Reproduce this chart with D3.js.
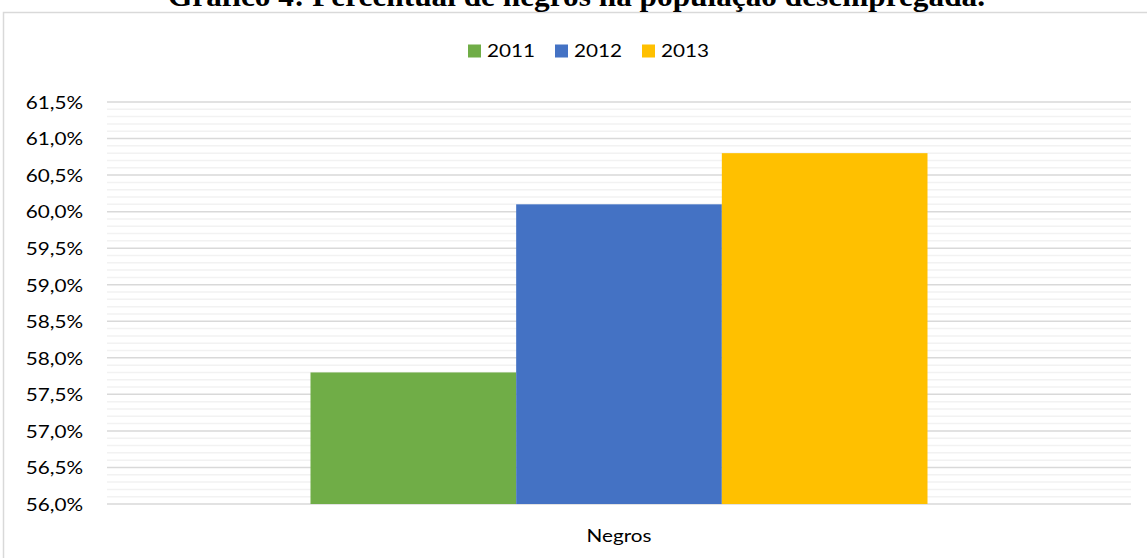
<!DOCTYPE html>
<html>
<head>
<meta charset="utf-8">
<script src="https://cdn.jsdelivr.net/npm/d3@7"></script>
<style>
  html, body { margin: 0; padding: 0; background: #fff; }
  svg { display: block; }
</style>
</head>
<body>
<svg id="chart" width="1147" height="558"></svg>
<script>
// Data
const categories = ["Negros"];
const years = ["2011", "2012", "2013"];
const values2011 = [57.8];
const values2012 = [60.1];
const values2013 = [60.8];
const yTicks = [56.0, 56.5, 57.0, 57.5, 58.0, 58.5, 59.0, 59.5, 60.0, 60.5, 61.0, 61.5];
const colors = ["#70ad47", "#4472c4", "#ffc000"];
const titleText = "Gráfico 4: Percentual de negros na população desempregada.";

const seriesValues = [values2011, values2012, values2013];

const W = 1147, H = 558;
const plot = { left: 107, right: 1131, top: 102, bottom: 504 };
const labelFont = "Lato, 'Open Sans', sans-serif";
const stretch = "scale(1.15,1)"; // wide sans labels

const svg = d3.select("#chart");

// Chart frame
svg.append("rect")
  .attr("x", 3.5).attr("y", 12.5)
  .attr("width", W + 10).attr("height", H)
  .attr("fill", "#fff")
  .attr("stroke", "#d9d9d9").attr("stroke-width", 1.5);

// Title (serif, bold), sitting above the frame
svg.append("text")
  .attr("x", 168).attr("y", 5.5)
  .attr("font-family", "'Liberation Serif', 'Times New Roman', serif")
  .attr("font-weight", "bold")
  .attr("font-size", 30)
  .attr("textLength", 817)
  .attr("lengthAdjust", "spacingAndGlyphs")
  .attr("fill", "#000")
  .text(titleText);

const y = d3.scaleLinear().domain([56, 61.5]).range([plot.bottom, plot.top]);

const groupWidth = 617;
const x0 = d3.scaleBand().domain(categories)
  .range([plot.left, plot.right]).paddingInner(0)
  .paddingOuter((plot.right - plot.left - groupWidth) / 2 / groupWidth);
const x1 = d3.scaleBand().domain(years).range([0, x0.bandwidth()]).padding(0);

// Minor gridlines every 0.1
const minor = d3.range(560, 615, 1).map(v => v / 10).filter(v => Math.round(v * 10) % 5 !== 0);
svg.append("g").selectAll("line").data(minor).join("line")
  .attr("x1", plot.left).attr("x2", plot.right)
  .attr("y1", d => y(d)).attr("y2", d => y(d))
  .attr("stroke", "#f2f2f2").attr("stroke-width", 1.5);

// Major gridlines
svg.append("g").selectAll("line").data(yTicks).join("line")
  .attr("x1", plot.left).attr("x2", plot.right)
  .attr("y1", d => y(d)).attr("y2", d => y(d))
  .attr("stroke", "#d9d9d9").attr("stroke-width", 1.5);

// Y axis labels
const yAxis = d3.axisLeft(y).tickValues(yTicks).tickSize(0).tickPadding(0)
  .tickFormat(d => d3.format(".1f")(d).replace(".", ",") + "%");
const gy = svg.append("g").attr("transform", `translate(83,0)`).call(yAxis);
gy.select(".domain").remove();
gy.selectAll("text")
  .attr("font-family", labelFont)
  .attr("font-size", 18)
  .attr("fill", "#000")
  .attr("x", 0)
  .attr("dy", "0.35em")
  .attr("transform", stretch);

// Bars
const groups = svg.append("g").selectAll("g").data(categories).join("g")
  .attr("transform", d => `translate(${x0(d)},0)`);
groups.selectAll("rect")
  .data((d, i) => years.map((yr, s) => ({ yr, v: seriesValues[s][i], c: colors[s] })))
  .join("rect")
  .attr("x", d => x1(d.yr))
  .attr("width", x1.bandwidth())
  .attr("y", d => y(d.v))
  .attr("height", d => y(56) - y(d.v))
  .attr("fill", d => d.c);

// Category label
svg.append("g").selectAll("g").data(categories).join("g")
  .attr("transform", d => `translate(${x0(d) + x0.bandwidth() / 2},536)`)
  .append("text")
  .attr("dy", "0.35em")
  .attr("text-anchor", "middle")
  .attr("font-family", labelFont)
  .attr("font-size", 18)
  .attr("fill", "#000")
  .attr("transform", stretch)
  .text(d => d);

// Legend
const legendX = [468, 555, 642];
const lg = svg.append("g").selectAll("g").data(years).join("g")
  .attr("transform", (d, i) => `translate(${legendX[i]},44.5)`);
lg.append("rect").attr("width", 13).attr("height", 13).attr("fill", (d, i) => colors[i]);
lg.append("g").attr("transform", "translate(19,6.5)")
  .append("text")
  .attr("dy", "0.35em")
  .attr("font-family", labelFont)
  .attr("font-size", 18)
  .attr("fill", "#000")
  .attr("transform", stretch)
  .text(d => d);
</script>
</body>
</html>
